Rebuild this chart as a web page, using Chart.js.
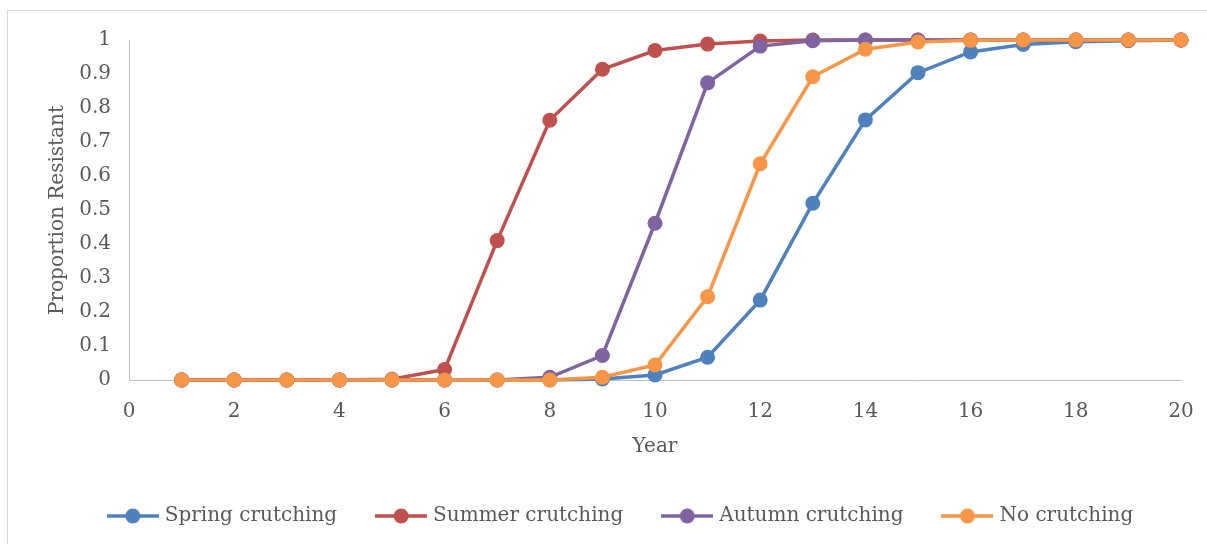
<!DOCTYPE html>
<html>
<head>
<meta charset="utf-8">
<script src="https://cdn.jsdelivr.net/npm/chart.js@4/dist/chart.umd.min.js"></script>
<style>
  html, body { margin: 0; padding: 0; background: #fff; }
  #wrap { position: relative; width: 1207px; height: 544px; overflow: hidden; }
  #frame { position: absolute; left: 7px; top: 10px; width: 1220px; height: 560px; border: 1px solid #d9d9d9; box-sizing: border-box; }
  canvas { position: absolute; left: 0; top: 0; }
</style>
</head>
<body>
<div id="wrap">
  <div id="frame"></div>
  <canvas id="c" width="1207" height="544"></canvas>
</div>
<script>
const years = [1,2,3,4,5,6,7,8,9,10,11,12,13,14,15,16,17,18,19,20];
const springCrutching = [0,0,0,0,0,0,0,0,0.003,0.015,0.067,0.235,0.52,0.765,0.904,0.965,0.987,0.995,0.998,1];
const summerCrutching = [0,0,0,0,0.002,0.031,0.41,0.764,0.914,0.969,0.988,0.997,1,1,1,1,1,1,1,1];
const autumnCrutching = [0,0,0,0,0,0,0,0.008,0.072,0.461,0.874,0.982,0.998,1,1,1,1,1,1,1];
const noCrutching     = [0,0,0,0,0,0,0,0,0.008,0.044,0.245,0.636,0.892,0.973,0.994,0.999,1,1,1,1];
const seriesNames = ['Spring crutching','Summer crutching','Autumn crutching','No crutching'];
const seriesColors = ['#4f81bd','#c0504d','#8064a2','#f79646'];
const xTicks = [0,2,4,6,8,10,12,14,16,18,20];
const yTicks = [0,0.1,0.2,0.3,0.4,0.5,0.6,0.7,0.8,0.9,1];

const FONT = "'DejaVu Serif', 'Liberation Serif', serif";
const TEXT = '#595959';
const FS = 20;

function legendIcon(color) {
  const cv = document.createElement('canvas');
  cv.width = 52; cv.height = 16;
  const g = cv.getContext('2d');
  g.strokeStyle = color; g.lineWidth = 3.5;
  g.beginPath(); g.moveTo(0, 8); g.lineTo(52, 8); g.stroke();
  g.fillStyle = color;
  g.beginPath(); g.arc(26, 8, 7.5, 0, Math.PI * 2); g.fill();
  return cv;
}

const allSeries = [springCrutching, summerCrutching, autumnCrutching, noCrutching];
const datasets = allSeries.map((vals, i) => ({
  label: seriesNames[i],
  data: years.map((y, k) => ({ x: y, y: vals[k] })),
  borderColor: seriesColors[i],
  backgroundColor: seriesColors[i],
  pointBackgroundColor: seriesColors[i],
  pointBorderColor: seriesColors[i],
  borderWidth: 3.5,
  pointRadius: 7.5,
  pointBorderWidth: 0,
  pointHoverRadius: 7.5,
  pointStyle: 'circle',
  tension: 0,
  clip: false,
  order: 4 - i
}));

new Chart(document.getElementById('c'), {
  type: 'line',
  data: { datasets },
  options: {
    responsive: false,
    animation: false,
    layout: { autoPadding: false, padding: { top: 40, right: 26, left: 63, bottom: 8 } },
    plugins: {
      tooltip: { enabled: false },
      legend: {
        position: 'bottom',
        labels: {
          usePointStyle: true,
          pointStyleWidth: 44,
          boxHeight: 16,
          padding: 42,
          color: TEXT,
          font: { family: FONT, size: FS },
          generateLabels: (chart) => chart.data.datasets.map((ds, i) => ({
            text: ds.label,
            datasetIndex: i,
            fillStyle: ds.borderColor,
            strokeStyle: ds.borderColor,
            fontColor: TEXT,
            lineWidth: 0,
            pointStyle: legendIcon(ds.borderColor),
            hidden: false
          }))
        }
      }
    },
    scales: {
      x: {
        type: 'linear',
        min: 0, max: 20,
        afterBuildTicks: (ax) => { ax.ticks = xTicks.map(v => ({ value: v })); },
        afterFit: (ax) => { ax.height = 84; ax.paddingRight = 0; ax.paddingLeft = 0; },
        grid: { display: false, drawTicks: false },
        border: { display: true, color: '#bfbfbf', width: 1 },
        ticks: { color: TEXT, font: { family: FONT, size: FS }, padding: 20, maxRotation: 0, autoSkip: false },
        title: { display: true, text: 'Year', color: TEXT, font: { family: FONT, size: FS }, padding: { top: 4, bottom: 5 } }
      },
      y: {
        type: 'linear',
        min: 0, max: 1,
        afterBuildTicks: (ax) => { ax.ticks = yTicks.map(v => ({ value: v })); },
        afterFit: (ax) => { ax.width = 66; },
        grid: { display: false, drawTicks: false },
        border: { display: true, color: '#bfbfbf', width: 1 },
        ticks: { color: TEXT, font: { family: FONT, size: FS }, padding: 18, autoSkip: false,
          callback: (v) => String(Math.round(v * 10) / 10) },
        title: { display: true, text: 'Proportion Resistant', color: TEXT, font: { family: FONT, size: FS }, padding: { top: -17, bottom: 0 } }
      }
    }
  }
});
</script>
</body>
</html>
